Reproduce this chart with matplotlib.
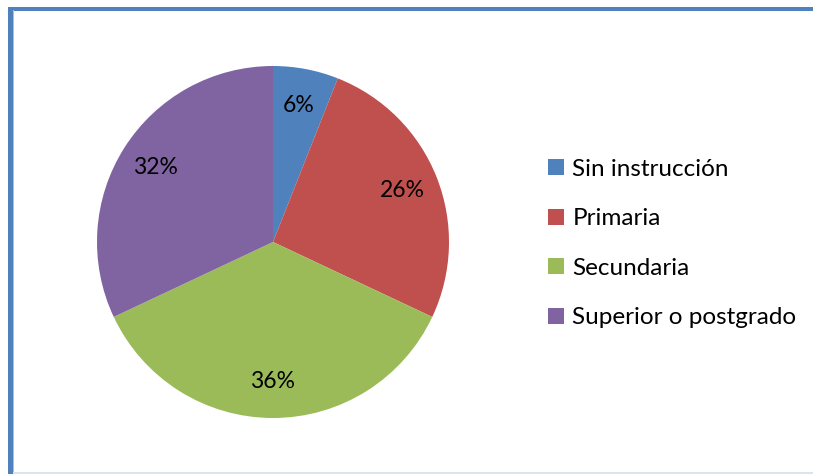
import matplotlib
matplotlib.use('Agg')
from matplotlib import pyplot as plt
from matplotlib.patches import Rectangle

plt.rcParams['font.family'] = ['Lato', 'DejaVu Sans']

labels = ['Sin instrucción', 'Primaria', 'Secundaria', 'Superior o postgrado']
values = [6, 26, 36, 32]
colors = ['#4F81BD', '#C0504D', '#9BBB59', '#8064A2']

W, H = 813, 474
fig = plt.figure(figsize=(W / 100, H / 100), dpi=100)

# frame lines around the chart area (pixel coords -> figure fraction)
def px_rect(x0, y0, x1, y1, color):
    fig.patches.append(Rectangle((x0 / W, 1 - y1 / H), (x1 - x0) / W, (y1 - y0) / H,
                                 transform=fig.transFigure, color=color, lw=0))

px_rect(8, 7, W, 10.5, '#4F81BD')
px_rect(8, 7, 12.5, H, '#4F81BD')
px_rect(12.5, 10, 13.5, H, '#A7C0DE')
px_rect(13, 472, W, 473.5, '#DCE3EC')

# pie axes: center (273, 242), radius 176 px
r = 176
ax = fig.add_axes([(273 - r) / W, (H - 242 - r) / H, 2 * r / W, 2 * r / H])
wedges, _, autotexts = ax.pie(values, colors=colors, startangle=90, counterclock=False,
                              autopct='%1.0f%%', pctdistance=0.79, radius=1,
                              wedgeprops=dict(linewidth=0),
                              textprops=dict(fontsize=16.5, color='black'))
ax.set_xlim(-1, 1)
ax.set_ylim(-1, 1)
ax.set_aspect('equal')

fig.legend(wedges, labels, loc='center left', bbox_to_anchor=(536 / W, 1 - 243.5 / H),
           frameon=False, fontsize=17.5, handlelength=0.65, handleheight=0.65,
           handletextpad=0.35, labelspacing=1.17, borderpad=0)

fig.savefig('out.png', dpi=100)
